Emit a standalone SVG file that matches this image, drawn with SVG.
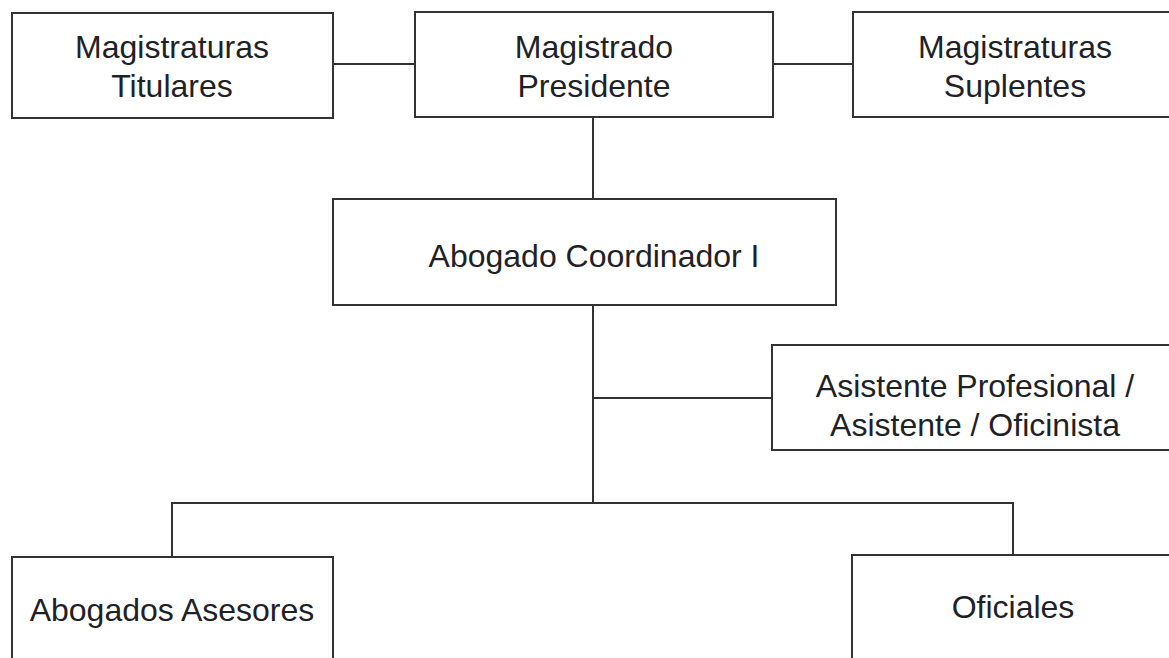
<svg xmlns="http://www.w3.org/2000/svg" width="1169" height="658" viewBox="0 0 1169 658">
<style>
.box{fill:#fff;stroke:#333;stroke-width:2}
.lbl{font-family:"Liberation Sans",Arial,sans-serif;font-size:32px;fill:#1e2226;text-anchor:middle}
.con{fill:none;stroke:#333;stroke-width:2}
</style>
<rect width="1169" height="658" fill="#fff"/>
<g id="connectors">
<line class="con" x1="333" y1="64" x2="415" y2="64"/>
<line class="con" x1="773" y1="64" x2="853" y2="64"/>
<line class="con" x1="593" y1="117" x2="593" y2="199"/>
<line class="con" x1="593" y1="305" x2="593" y2="503"/>
<line class="con" x1="593" y1="398" x2="772" y2="398"/>
<polyline class="con" points="172,557 172,503 1013,503 1013,555"/>
</g>
<g id="magistraturas-titulares">
<rect class="box" x="12" y="13" width="321" height="105"/>
<text class="lbl" x="172" y="58">Magistraturas</text>
<text class="lbl" x="172" y="97">Titulares</text>
</g>
<g id="magistrado-presidente">
<rect class="box" x="415" y="12" width="358" height="105"/>
<text class="lbl" x="594" y="58">Magistrado</text>
<text class="lbl" x="594" y="97">Presidente</text>
</g>
<g id="magistraturas-suplentes">
<rect class="box" x="853" y="12" width="326" height="105"/>
<text class="lbl" x="1015" y="58">Magistraturas</text>
<text class="lbl" x="1015" y="97">Suplentes</text>
</g>
<g id="abogado-coordinador">
<rect class="box" x="333" y="199" width="503" height="106"/>
<text class="lbl" x="594" y="267">Abogado Coordinador I</text>
</g>
<g id="asistente">
<rect class="box" x="772" y="345" width="410" height="105"/>
<text class="lbl" x="975" y="397">Asistente Profesional /</text>
<text class="lbl" x="975" y="436">Asistente / Oficinista</text>
</g>
<g id="abogados-asesores">
<rect class="box" x="12" y="557" width="321" height="120"/>
<text class="lbl" x="172" y="621">Abogados Asesores</text>
</g>
<g id="oficiales">
<rect class="box" x="852" y="555" width="330" height="120"/>
<text class="lbl" x="1013" y="618">Oficiales</text>
</g>
</svg>
